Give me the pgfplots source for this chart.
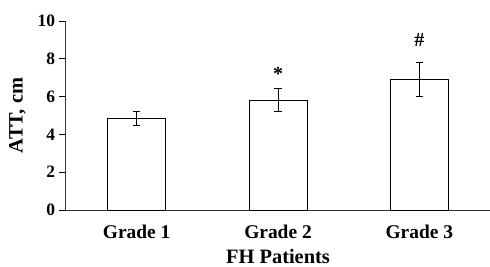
\documentclass[border=0pt]{standalone}
\usepackage{pgfplots}
\pgfplotsset{compat=1.18}
\usepackage{fontspec}
\setmainfont{Liberation Serif}
\begin{document}
\begin{tikzpicture}
\begin{axis}[
  scale only axis,
  width=424bp, height=189bp,
  xmin=-0.5, xmax=2.5,
  ymin=0, ymax=10,
  axis x line=bottom, axis y line=left,
  axis line style={-, line width=1bp, draw=black!80},
  ytick={0,2,4,6,8,10},
  xtick={0,1,2},
  xticklabels={Grade 1,Grade 2,Grade 3},
  minor xtick={0.5,1.5},
  xtick style={draw=none},
  minor tick style={draw=black!80, line width=1bp},
  ytick style={draw=black, line width=0.8bp},
  tick align=outside,
  major tick length=6.5bp,
  minor tick length=5bp,
  /pgf/number format/assume math mode=true,
  yticklabel style={font=\fontsize{17.5}{19}\selectfont\bfseries, xshift=-1bp},
  xticklabel style={font=\fontsize{19.5}{22}\selectfont\bfseries, anchor=base, yshift=-22bp},
  xlabel={FH Patients},
  ylabel={ATT, cm},
  every axis x label/.style={font=\fontsize{20.5}{23}\selectfont\bfseries, at={(axis description cs:0.5,0)}, anchor=base, yshift=-53bp},
  every axis y label/.style={font=\fontsize{20.5}{23}\selectfont\bfseries, at={(axis description cs:0,0.5)}, anchor=center, rotate=90, yshift=48.5bp},
  clip=false,
]
\addplot[ybar, bar width=58bp, draw=black, line width=1bp, fill=white,
  error bars/.cd, y dir=both, y explicit,
  error bar style={line width=1bp, black},
  error mark options={rotate=90, mark size=3.8bp, line width=1bp, black}]
  coordinates {(0,4.85) +- (0,0.38) (1,5.82) +- (0,0.62) (2,6.93) +- (0,0.9)};
\node[font=\fontsize{20}{22}\selectfont\bfseries, anchor=base] at (axis cs:1,6.86) {*};
\node[font=\fontsize{20}{22}\selectfont\bfseries, anchor=base] at (axis cs:2,8.64) {\#};
\end{axis}
\pgfresetboundingbox
\path (-66bp,-57bp) rectangle (424bp,210bp);
\end{tikzpicture}
\end{document}
